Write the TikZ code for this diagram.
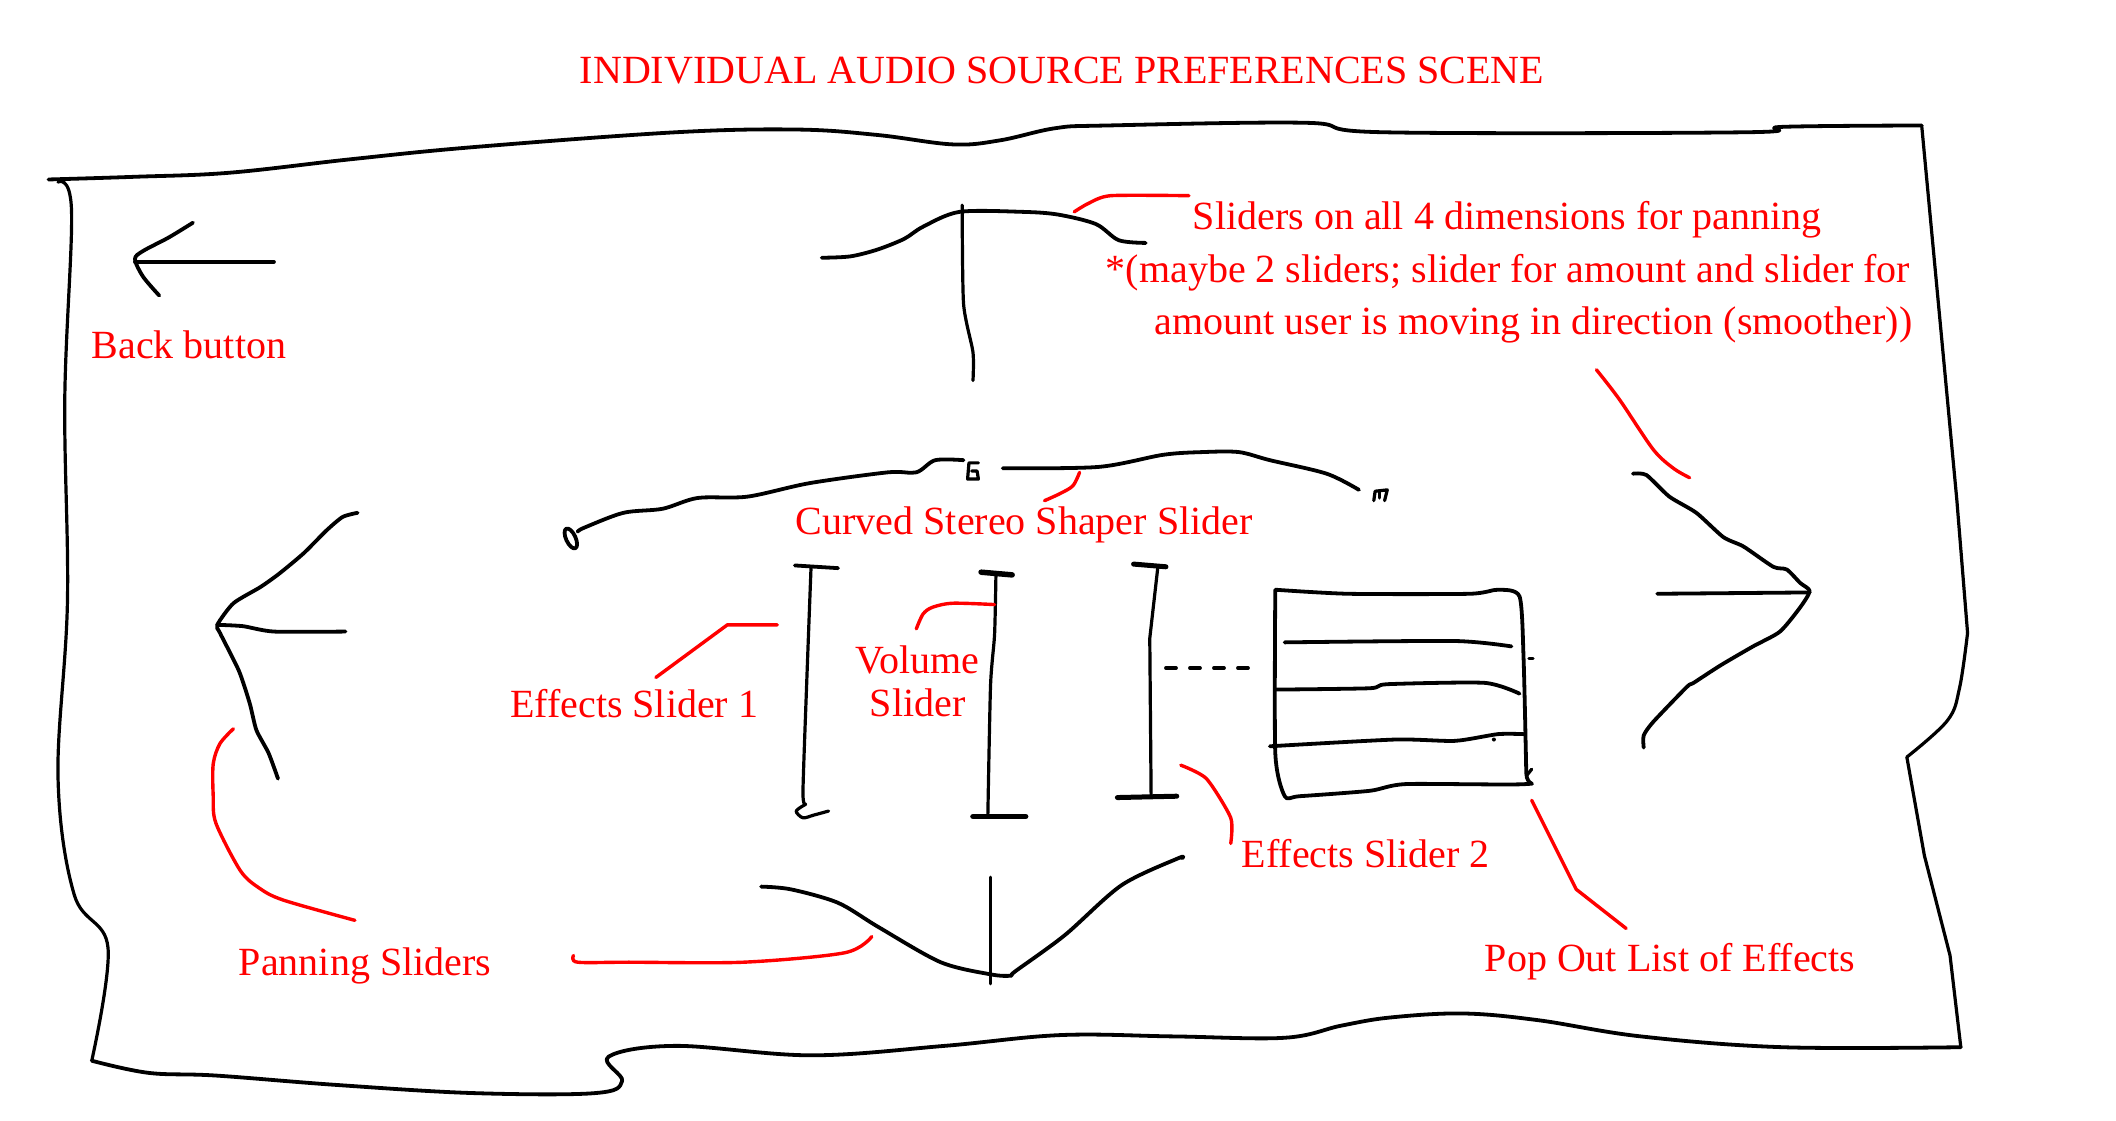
\documentclass[tikz,border=0pt]{standalone}
\usepackage{fontspec}
\setmainfont{Liberation Serif}
\begin{document}
\begin{tikzpicture}[x=1.3495pt,y=-1.3495pt,
  sk/.style={line width=3.8pt, line cap=round, line join=round},
  skthin/.style={line width=3.2pt, line cap=round, line join=round},
  rd/.style={red, line width=3.4pt, line cap=round, line join=round},
  lbl/.style={text=red, font=\fontsize{40}{48}\selectfont, inner sep=0pt, anchor=base}]
\useasboundingbox (0,0) rectangle (1568,830);

% title
\node[lbl] (title) at (787,62) {INDIVIDUAL AUDIO SOURCE PREFERENCES SCENE};

% outer frame
\draw[sk] plot[smooth, tension=0.6] coordinates {(36,133) (100,131) (170,128) (260,118) (351,109) (501,98) (591,96) (650,100) (706,107) (741,104) (782,95) (820,93) (968,91) (1025,98) (1294,98) (1321,94) (1424,93)};
\draw[skthin] (1424,93) -- (1450,370) -- (1458,469);
\draw[skthin] plot[smooth, tension=0.6] coordinates {(1458,469) (1452,510) (1443,534) (1413,561)};
\draw[skthin] (1413,561) -- (1426,634) -- (1445,708) -- (1453,776);
\draw[sk] plot[smooth, tension=0.6] coordinates {(1453,776) (1321,776) (1216,768) (1140,756) (1084,751) (1030,754) (994,760) (952,769) (870,768) (786,767) (700,775) (601,782) (501,775) (451,783) (461,801) (441,810) (351,810) (250,804) (160,797) (110,795) (68,786)};
\draw[skthin] plot[smooth, tension=0.6] coordinates {(68,786) (80,702) (55,663) (43,576) (50,445) (48,296) (53,156) (43,135)};

% back button
\draw[sk] (100,194) -- (203,194);
\draw[sk] plot[smooth] coordinates {(143,165) (125,176) (106,186) (100,192) (106,205) (118,219)};
\node[lbl] (back) at (140,266) {Back button};

% top panning slider
\draw[sk] plot[smooth, tension=0.5] coordinates {(609,191) (630,190) (650,185) (670,177) (684,168) (711,157) (758,157) (784,159) (812,166) (829,178) (849,180)};
\draw[skthin] plot[smooth, tension=0.4] coordinates {(713,152) (714,225) (721,261) (721,282)};
\draw[rd] plot[smooth, tension=0.4] coordinates {(796,157) (806,151) (823,145) (881,145)};
\node[lbl] (dims1) at (1117,170) {Sliders on all 4 dimensions for panning};
\node[lbl] (dims2) at (1117.5,209.5) {*(maybe 2 sliders; slider for amount and slider for};
\node[lbl] (dims3) at (1136.5,248) {amount user is moving in direction (smoother))};

% right panning slider
\draw[rd] plot[smooth, tension=0.5] coordinates {(1183,274) (1200,296) (1225,333) (1240,347) (1252,354)};
\draw[sk] plot[smooth, tension=0.4] coordinates {(1210,351) (1220,352) (1237,368) (1257,380) (1277,398) (1292,405) (1314,420) (1324,422) (1334,432) (1341,438) (1334,450) (1319,468) (1299,479) (1275,493) (1255,506) (1250,509) (1225,535) (1218,545) (1218,554)};
\draw[sk] (1228,440) -- (1341,439);

% left panning slider
\draw[sk] plot[smooth, tension=0.4] coordinates {(265,380) (254,383) (242,393) (225,410) (207,425) (193,435) (173,447) (161,463) (163,469) (177,497) (185,521) (190,541) (199,558) (206,577)};
\draw[sk] plot[smooth, tension=0.4] coordinates {(161,463) (180,464) (203,468) (256,468)};
\draw[rd] plot[smooth, tension=0.5] coordinates {(173,540) (163,551) (158,566) (158,590) (160,610) (178,645) (192,658) (210,667) (263,682)};
\node[lbl] (pan) at (270.5,723) {Panning Sliders};
\draw[rd] plot[smooth, tension=0.5] coordinates {(425,708) (428,713) (466,713) (551,713) (626,706) (646,694)};

% bottom panning slider
\draw[sk] plot[smooth, tension=0.5] coordinates {(564,657) (586,659) (621,669) (651,687) (697,713) (734,722) (749,723) (752,720) (789,693) (831,656) (873,636) (876,636)};
\draw[skthin] (734,650) -- (734,729);

% curved stereo shaper slider
\draw[sk] plot[smooth, tension=0.5] coordinates {(428,394) (433,391) (462,380) (491,377) (517,369) (554,368) (600,358) (658,350) (679,350) (693,341) (714,341)};
\draw[sk, rotate around={25:(423,399)}] (423,399) ellipse [x radius=3.5, y radius=8];
\draw[skthin] (725,343) -- (718,343) -- (717,355) -- (725,355) -- (724,349) -- (720,349);
\draw[sk] plot[smooth, tension=0.5] coordinates {(743,347) (814,346) (862,337) (891,335) (918,335) (941,341) (983,351) (1007,363)};
\draw[skthin] (1018,371) -- (1019,364) -- (1028,363) -- (1026,371);
\draw[skthin] (1022,364) -- (1022,369);
\draw[rd] plot[smooth] coordinates {(800,350) (795,360) (785,366) (774,371)};
\node[lbl] (curved) at (759,396) {Curved Stereo Shaper Slider};

% effects slider 1
\draw[sk] (589,419) -- (621,421);
\draw[skthin] plot[smooth, tension=0.4] coordinates {(601,420) (598,500) (595,587) (597,596)};
\draw[skthin] plot[smooth] coordinates {(597,596) (590,601) (595,606) (603,604) (614,601)};
\draw[rd] (486,502) -- (539,463) -- (576,463);
\node[lbl] (fx1) at (470,532) {Effects Slider 1};

% volume slider
\draw[line width=5.5pt, line cap=round] (727,424) -- (750,426);
\draw[skthin] plot[smooth, tension=0.4] coordinates {(738,426) (737,470) (734,508) (732,605)};
\draw[line width=5.5pt, line cap=round] (721,605) -- (760,605);
\draw[rd] plot[smooth] coordinates {(679,466) (684,455) (691,450) (706,447) (737,448)};
\node[lbl] (vol1) at (680,499) {Volume};
\node[lbl] (vol2) at (680,531) {Slider};

% effects slider 2
\draw[line width=5pt, line cap=round] (840,418) -- (864,420);
\draw[skthin] (858,420) -- (852,473) -- (853,590);
\draw[line width=5pt, line cap=round] (828,591) -- (872,590);
\draw[sk, dash pattern=on 10pt off 14pt] (864,495) -- (929,495);
\draw[rd] plot[smooth, tension=0.4] coordinates {(875,567) (894,577) (912,606) (912,625)};
\node[lbl] (fx2) at (1012,643) {Effects Slider 2};

% pop out list of effects
\draw[sk] plot[smooth, tension=0.4] coordinates {(945,437) (999,440) (1089,440) (1110,437) (1126,442) (1129,488) (1131,573) (1131,581) (1042,581) (1015,586) (963,590) (952,590) (945,558) (945,437)};
\draw[sk] plot[smooth, tension=0.4] coordinates {(952,476) (1078,475) (1120,479)};
\draw[sk] plot[smooth, tension=0.4] coordinates {(945,511) (1015,510) (1028,507) (1100,506) (1126,514)};
\draw[sk] plot[smooth, tension=0.4] coordinates {(941,553) (1034,548) (1078,549) (1110,544) (1129,544)};
\draw[skthin] (1133,488) -- (1136,488);
\fill (1107,548) circle (1.5);
\draw[skthin] (1131,575) -- (1135,570);
\draw[rd] (1135,593) -- (1168,659) -- (1205,688);
\node[lbl] (popout) at (1237.5,720) {Pop Out List of Effects};
\end{tikzpicture}
\end{document}
